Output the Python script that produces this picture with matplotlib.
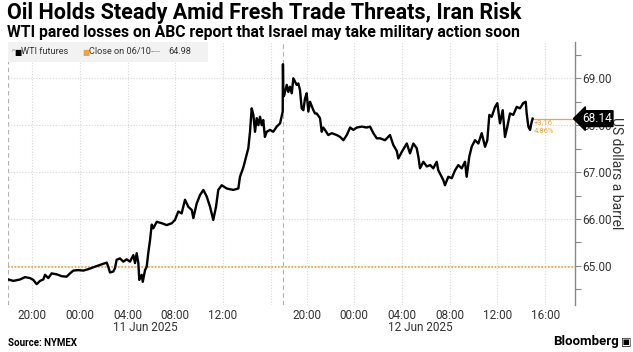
import matplotlib
matplotlib.use("Agg")
import matplotlib.pyplot as plt
from matplotlib.patches import Rectangle

# WTI futures, hours counted in trading time from the 18:00 Jun 10 session open
# (the 17:00-18:00 maintenance break is squeezed out of the axis)
hours = [0.00, 0.42, 0.98, 1.40, 1.82, 2.10, 2.38, 2.66, 2.93, 3.08, 3.35, 3.63, 4.06, 4.47,
         4.89, 5.17, 5.45, 5.87, 6.29, 6.71, 7.12, 7.69, 8.25, 8.38, 8.52, 8.80, 8.94, 9.08,
         9.36, 9.64, 9.92, 10.20, 10.48, 10.62, 10.76, 10.90, 10.98, 11.18, 11.27, 11.46,
         11.60, 11.73, 11.88, 12.02, 12.15, 12.44, 12.86, 13.28, 13.70, 13.97, 14.25, 14.53,
         14.81, 15.09, 15.38, 15.51, 15.79, 16.07, 16.35, 16.63, 16.91, 17.18, 17.41, 17.60,
         17.89, 18.31, 18.86, 19.28, 19.42, 19.70, 20.12, 20.26, 20.40, 20.54, 20.68, 20.82,
         20.96, 21.10, 21.24, 21.37, 21.51, 21.66, 21.94, 22.21, 22.50, 22.78, 23.00, 23.02,
         23.06, 23.13, 23.34, 23.47, 23.61, 23.76, 23.89, 24.03, 24.17, 24.31, 24.45, 24.59,
         24.73, 24.87, 25.01, 25.15, 25.29, 25.57, 25.71, 25.85, 25.99, 26.13, 26.27, 26.40,
         26.54, 26.82, 27.11, 27.53, 27.81, 28.09, 28.37, 28.65, 28.92, 29.21, 29.63, 30.04,
         30.32, 30.60, 30.88, 31.16, 31.58, 31.99, 32.27, 32.56, 32.69, 32.98, 33.40, 33.67,
         33.95, 34.23, 34.37, 34.51, 34.79, 35.08, 35.36, 35.62, 35.91, 36.04, 36.18, 36.46,
         36.60, 36.88, 37.17, 37.45, 37.72, 38.00, 38.28, 38.42, 38.64, 38.84, 39.12, 39.40,
         39.68, 39.96, 40.15, 40.32, 40.52, 40.80, 40.99, 41.21, 41.44, 41.63, 41.83, 42.05,
         42.33, 42.61, 42.89, 43.16, 43.37, 43.45, 43.59, 43.73, 43.87, 43.95]
wti = [64.71, 64.68, 64.71, 64.76, 64.74, 64.70, 64.61, 64.68, 64.71, 64.81, 64.74, 64.84, 64.82, 64.78,
       64.77, 64.84, 64.90, 64.91, 64.90, 64.93, 64.97, 65.02, 65.07, 64.98, 64.86, 64.88, 64.95, 65.13,
       65.16, 65.09, 65.14, 65.09, 65.23, 65.06, 65.27, 65.06, 64.70, 64.81, 64.66, 64.91,
       64.98, 65.27, 65.55, 65.88, 65.80, 65.94, 65.91, 65.87, 65.91, 65.98, 66.16, 66.12,
       66.41, 66.26, 66.19, 66.02, 66.33, 66.51, 66.62, 66.48, 66.26, 65.98, 66.26, 66.62,
       66.72, 66.65, 66.62, 66.65, 66.90, 67.10, 67.51, 67.86, 68.36, 68.22, 67.86, 68.15,
       68.00, 68.18, 68.00, 68.11, 67.75, 67.86, 67.90, 67.86, 67.97, 68.04, 68.29, 69.30,
       68.61, 68.64, 68.86, 68.71, 68.82, 68.68, 69.00, 68.93, 68.86, 68.89, 68.75, 68.36,
       68.32, 68.57, 68.68, 68.29, 68.50, 68.32, 68.25, 68.25, 68.20, 68.15, 67.86, 67.95,
       67.90, 67.79, 67.83, 67.79, 67.75, 67.68, 67.79, 67.95, 67.90, 67.95, 67.97, 67.95,
       67.97, 67.83, 67.72, 67.72, 67.68, 67.79, 67.58, 67.45, 67.29, 67.43, 67.61, 67.40,
       67.61, 67.51, 67.33, 67.08, 67.22, 67.12, 67.15, 67.08, 67.22, 67.04, 66.97, 66.83,
       66.72, 66.90, 66.87, 67.04, 67.15, 67.08, 67.22, 66.90, 67.33, 67.54, 67.68, 67.61,
       67.83, 67.54, 67.68, 68.22, 68.18, 68.39, 68.47, 68.04, 68.32, 67.75, 67.97, 68.25,
       68.22, 68.39, 68.36, 68.47, 68.50, 68.25, 67.97, 67.90, 68.07, 68.14]

prev_close = 64.98
last_price = 68.14
change = "+3.16"
change_pct = "4.86%"

tick_hours = [2, 6, 10, 14, 18, 22, 25, 29, 33, 37, 41, 45]
tick_labels = ["20:00", "00:00", "04:00", "08:00", "12:00", "", "20:00", "00:00",
               "04:00", "08:00", "12:00", "16:00"]
session_breaks = [0, 23]
date_labels = ["11 Jun 2025", "12 Jun 2025"]
date_hours = [10, 33]
y_ticks = [65, 66, 67, 68, 69]

W, H = 633, 352
orange = "#f0a33a"
txt = "#333333"
plt.rcParams["font.family"] = ["Roboto", "DejaVu Sans"]

fig = plt.figure(figsize=(W / 100, H / 100), dpi=100)
ax = fig.add_axes([8.3 / W, 1 - 305 / H, (575 - 8.3) / W, (305 - 42) / H])

def fx(px):
    return px / W

def fy(py):
    return 1 - py / H

ax.set_xlim(0, 47.5)
ax.set_ylim(64.166, 69.774)

# grid
for h in tick_hours:
    ax.axvline(h, color="#d9d9d9", lw=0.8, ls=(0, (1, 1.5)), zorder=0)
for h in session_breaks:
    ax.axvline(h, color="#b0b0b0", lw=0.8, ls=(0, (4, 3)), zorder=0)
for v in y_ticks:
    ax.axhline(v, color="#d9d9d9", lw=0.8, ls=(0, (1, 1.5)), zorder=0)

ax.axhline(prev_close, color=orange, lw=1.2, ls=(0, (1, 1)), zorder=1)
ax.plot(hours, wti, color="black", lw=1.7, zorder=3)
ax.plot([hours[-1], 47.5], [last_price, last_price], color=orange, lw=0.9, zorder=2)
ax.text(hours[-1] + 0.1, last_price - 0.1, change, color=orange, fontsize=5.5, va="center")
ax.text(hours[-1] + 0.1, last_price - 0.27, change_pct, color=orange, fontsize=5.5, va="center")

for s in ["top", "left", "bottom"]:
    ax.spines[s].set_visible(False)
ax.spines["right"].set_color("#888888")
ax.spines["right"].set_linewidth(1.0)

ax.yaxis.tick_right()
ax.set_yticks(y_ticks)
ax.set_yticklabels([f"{v:.2f}" for v in y_ticks])
ax.set_yticks([64.5, 65.5, 66.5, 67.5, 68.5, 69.5], minor=True)
ax.tick_params(axis="y", which="both", length=4, width=0.8, color="#888888",
               labelsize=8.5, labelcolor=txt, pad=1.5)
ax.set_xticks(tick_hours)
ax.set_xticklabels(tick_labels)
ax.tick_params(axis="x", length=0, labelsize=8.5, labelcolor=txt, pad=3)

for d, h in zip(date_labels, date_hours):
    ax.text(h - 1.2, -0.062, d, transform=ax.get_xaxis_transform(), fontsize=8.5,
            color=txt, ha="left", va="top")

ax.text(1.012, last_price, f"{last_price:.2f}", transform=ax.get_yaxis_transform(),
        fontsize=8.5, color="white", ha="left", va="center", zorder=6,
        bbox=dict(boxstyle="larrow,pad=0.12", fc="black", ec="black"))

ax.set_ylabel("US dollars a barrel", rotation=270, fontsize=10, color=txt, labelpad=8)
ax.yaxis.set_label_position("right")

# legend strip
fig.patches.append(Rectangle((fx(8.3), fy(62)), fx(200), 20 / H, transform=fig.transFigure,
                             fc="#f2f2f2", ec="none", zorder=0))
ly = fy(52)
fig.text(fx(11), ly, "\u1d56", fontsize=6, color="#999999", va="center", family="DejaVu Sans")
fig.text(fx(14), ly, "\u25a0", fontsize=5.5, color="black", va="center", family="DejaVu Sans")
fig.text(fx(21), ly, "WTI futures", fontsize=6.6, color=txt, va="center")
fig.text(fx(82), ly, "\u25a0", fontsize=5.5, color=orange, va="center", family="DejaVu Sans")
fig.text(fx(89), ly, "Close on 06/10", fontsize=6.6, color=txt, va="center")
fig.text(fx(151), ly, "----", fontsize=6.6, color="#999999", va="center")
fig.text(fx(168), ly, f"{prev_close:.2f}", fontsize=6.6, color=txt, va="center")

fig.text(fx(7), fy(13.5), "Oil Holds Steady Amid Fresh Trade Threats, Iran Risk",
         fontsize=15.5, fontweight="bold", color="black", va="center")
fig.text(fx(7), fy(33), "WTI pared losses on ABC report that Israel may take military action soon",
         fontsize=11.3, fontweight="bold", color="black", va="center")
fig.text(fx(8), fy(343), "Source: NYMEX", fontsize=7, fontweight="bold", color="black", va="center")
fig.text(fx(619), fy(342), "Bloomberg", fontsize=9.5, fontweight="bold", color="black",
         va="center", ha="right")
fig.text(fx(621), fy(342), "\u25a3", fontsize=8, color="black", va="center", family="DejaVu Sans")

fig.savefig("out.png", dpi=100)
